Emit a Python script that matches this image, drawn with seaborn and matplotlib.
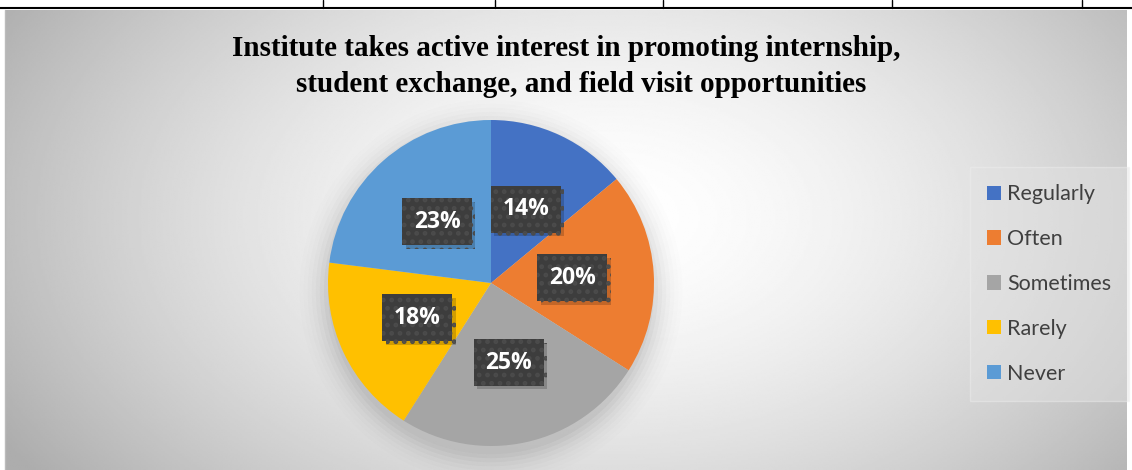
import numpy as np
import matplotlib
matplotlib.use("Agg")
import matplotlib.pyplot as plt
import seaborn as sns
from matplotlib.patches import Patch
from matplotlib.lines import Line2D
import matplotlib.patheffects as pe

categories = ["Regularly", "Often", "Sometimes", "Rarely", "Never"]
values = [14, 20, 25, 18, 23]
colors = ["#4472C4", "#ED7D31", "#A5A5A5", "#FFC000", "#5B9BD5"]
title_line1 = "Institute takes active interest in promoting internship,"
title_line2 = "student exchange, and field visit opportunities"

sns.set_theme(style="white")
plt.rcParams['font.family'] = ['Lato', 'DejaVu Sans']
plt.rcParams['hatch.linewidth'] = 2.2

W, H = 1132, 470
fig = plt.figure(figsize=(W / 100, H / 100), dpi=100)
fig.patch.set_facecolor("white")

# background gradient panel
x0, x1, ytop = 5, 1127, 10
bg = fig.add_axes([x0 / W, 0, (x1 - x0) / W, (H - ytop) / H])
bg.set_axis_off()
nx, ny = 600, 250
xx, yy = np.meshgrid(np.linspace(-1, 1, nx), np.linspace(-1, 1, ny))
cx, cy = 0.08, -0.1
r = np.sqrt(((xx - cx) / 1.05) ** 2 + ((yy - cy) / 1.6) ** 2)
val = 1.0 - 0.24 * np.clip(r, 0, 1.2) ** 1.6
bg.imshow(val, cmap="gray", vmin=0, vmax=1, aspect="auto", extent=[0, 1, 0, 1], interpolation="bilinear")
bg.set_xlim(0, 1); bg.set_ylim(0, 1)

# top table border lines
fig.add_artist(Line2D([0, 1], [1 - 7.5 / H, 1 - 7.5 / H], color="black", lw=1.5, transform=fig.transFigure))
for xv in [323, 495, 663, 892, 1082]:
    fig.add_artist(Line2D([xv / W, xv / W], [1 - 7.5 / H, 1], color="black", lw=1, transform=fig.transFigure))
fig.add_artist(Line2D([x0 / W, x0 / W], [0, 1 - ytop / H], color="#bbbbbb", lw=1, transform=fig.transFigure))

# pie
pcx, pcy, pr = 491, 283, 163
ax = fig.add_axes([(pcx - pr) / W, (H - pcy - pr) / H, 2 * pr / W, 2 * pr / H])
# soft shadow
for i, a in enumerate(np.linspace(0.03, 0.006, 8)):
    sh = plt.Circle((0.0, -0.05), 1.0 + 0.025 * i, color="black", alpha=a, lw=0, clip_on=False)
    ax.add_patch(sh)
wedges, _ = ax.pie(values, colors=colors, startangle=90, counterclock=False, radius=1.0,
                   wedgeprops=dict(linewidth=0))
ax.set_xlim(-1, 1); ax.set_ylim(-1, 1)
ax.set_aspect("equal")
ax.set_axis_off()

total = sum(values)
cum = 0
for v in values:
    mid = 90 - (cum + v / 2) / total * 360
    cum += v
    lx, ly = 0.5 * np.cos(np.radians(mid)), 0.5 * np.sin(np.radians(mid))
    t = ax.text(lx, ly, f"{v}%", ha="center", va="center", fontsize=16.5, fontweight="bold",
                color="white", family=["Open Sans", "DejaVu Sans"],
                bbox=dict(boxstyle="square,pad=0.5", fc="#3d3d3d", ec="#4b4b4b", lw=0, hatch=".."))
    t.get_bbox_patch().set_path_effects([
        pe.SimplePatchShadow(offset=(2.5, -2.5), shadow_rgbFace="black", alpha=0.18),
        pe.Normal()])

# title
tfam = ["Liberation Serif", "DejaVu Serif"]
fig.text(566 / W, 1 - 49 / H, title_line1, ha="center", va="center", fontsize=21, fontweight="bold",
         family=tfam, color="black")
fig.text(581 / W, 1 - 84 / H, title_line2, ha="center", va="center", fontsize=21, fontweight="bold",
         family=tfam, color="black")

# legend
handles = [Patch(facecolor=c, edgecolor="none", label=l) for c, l in zip(colors, categories)]
leg = fig.legend(handles=handles, loc="center left", bbox_to_anchor=(976 / W, (H - 284) / H),
                 frameon=True, fontsize=15.5, labelspacing=1.15, handlelength=0.65, handleheight=0.65,
                 handletextpad=0.3, borderpad=0.5, borderaxespad=0)
leg.get_frame().set_facecolor("#e2e2e2")
leg.get_frame().set_edgecolor("#efefef")
leg.get_frame().set_alpha(0.45)
leg.get_frame().set_boxstyle("square")
for t in leg.get_texts():
    t.set_color("#404040")

fig.savefig("out.png", dpi=100)
